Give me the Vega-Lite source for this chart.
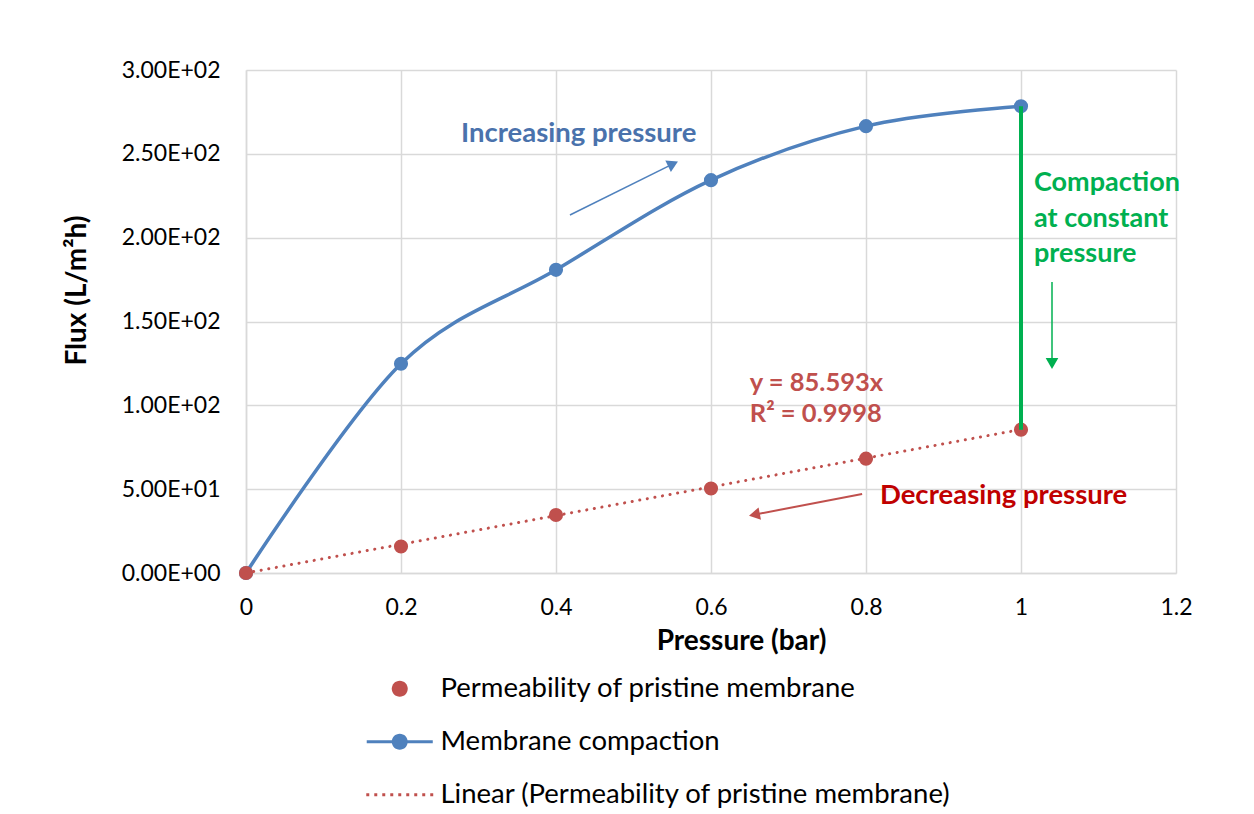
{
  "$schema": "https://vega.github.io/schema/vega-lite/v6.json",
  "autosize": {"type": "none"},
  "width": 930,
  "height": 503,
  "padding": {"left": 246, "top": 70, "right": 78, "bottom": 241},
  "background": "white",
  "config": {
    "view": {"stroke": null},
    "font": "Lato",
    "axis": {
      "gridColor": "#D9D9D9",
      "gridWidth": 1.5,
      "domainColor": "#D9D9D9",
      "domainWidth": 1.5,
      "ticks": false,
      "tickSize": 0,
      "labelFont": "Lato",
      "labelFontSize": 23,
      "labelColor": "#000000",
      "labelFlush": false,
      "titleFont": "Lato",
      "titleFontSize": 28,
      "titleFontWeight": "bold",
      "titleColor": "#000000"
    }
  },
  "datasets": {
    "points": [
      {"pressure": 0, "flux": 0, "series": "Membrane compaction"},
      {"pressure": 0.2, "flux": 124.8, "series": "Membrane compaction"},
      {"pressure": 0.4, "flux": 180.8, "series": "Membrane compaction"},
      {"pressure": 0.6, "flux": 234.3, "series": "Membrane compaction"},
      {"pressure": 0.8, "flux": 266.5, "series": "Membrane compaction"},
      {"pressure": 1.0, "flux": 278.4, "series": "Membrane compaction"},
      {"pressure": 0, "flux": 0, "series": "Permeability of pristine membrane"},
      {"pressure": 0.2, "flux": 15.8, "series": "Permeability of pristine membrane"},
      {"pressure": 0.4, "flux": 34.6, "series": "Permeability of pristine membrane"},
      {"pressure": 0.6, "flux": 50.4, "series": "Permeability of pristine membrane"},
      {"pressure": 0.8, "flux": 68.2, "series": "Permeability of pristine membrane"},
      {"pressure": 1.0, "flux": 85.5, "series": "Permeability of pristine membrane"}
    ],
    "trend": [
      {"pressure": 0, "flux": 0},
      {"pressure": 1, "flux": 85.593}
    ],
    "compaction": [
      {"pressure": 1, "flux": 85.5, "flux2": 278.4}
    ],
    "arrowBlue": [{"pressure": 0.418, "flux": 213.5, "pressure2": 0.551, "flux2": 244}],
    "arrowGreen": [{"pressure": 1.04, "flux": 173.6, "pressure2": 1.04, "flux2": 125}],
    "arrowRed": [{"pressure": 0.795, "flux": 47.1, "pressure2": 0.656, "flux2": 34.8}],
    "textBlue": [{"pressure": 0.2774, "flux": 261.8, "label": "Increasing pressure"}],
    "textGreen": [
      {"pressure": 1.0168, "flux": 232.6, "label": "Compaction"},
      {"pressure": 1.0168, "flux": 211.1, "label": "at constant"},
      {"pressure": 1.0168, "flux": 190.3, "label": "pressure"}
    ],
    "textEq": [
      {"pressure": 0.650, "flux": 113.3, "label": "y = 85.593x"},
      {"pressure": 0.650, "flux": 94.8, "label": "R² = 0.9998"}
    ],
    "textRed": [{"pressure": 0.818, "flux": 45.9, "label": "Decreasing pressure"}]
  },
  "encoding": {
    "x": {
      "field": "pressure",
      "type": "quantitative",
      "scale": {"domain": [0, 1.2], "nice": false},
      "axis": {
        "title": "Pressure (bar)",
        "values": [0, 0.2, 0.4, 0.6, 0.8, 1.0, 1.2],
        "format": ".1~f",
        "labelPadding": 23,
        "titleX": 495,
        "titleY": 68,
        "titleBaseline": "middle",
        "titleAlign": "center"
      }
    },
    "y": {
      "field": "flux",
      "type": "quantitative",
      "scale": {"domain": [0, 300], "nice": false},
      "axis": {
        "title": "Flux (L/m²h)",
        "values": [0, 50, 100, 150, 200, 250, 300],
        "labelExpr": "replace(format(datum.value, '.2e'), 'e+', 'E+0')",
        "labelPadding": 26,
        "titleX": -169,
        "titleY": 220,
        "titleAlign": "center",
        "titleBaseline": "middle",
        "titleAngle": -90
      }
    }
  },
  "layer": [
    {
      "data": {"name": "points"},
      "transform": [{"filter": "datum.series === 'Membrane compaction'"}],
      "mark": {"type": "line", "interpolate": "cardinal", "color": "#4F81BD", "strokeWidth": 3.5}
    },
    {
      "data": {"name": "points"},
      "transform": [{"filter": "datum.series === 'Membrane compaction'"}],
      "mark": {"type": "point", "filled": true, "opacity": 1, "size": 200, "color": "#4F81BD"}
    },
    {
      "data": {"name": "points"},
      "transform": [{"filter": "datum.series === 'Permeability of pristine membrane'"}],
      "mark": {"type": "point", "filled": true, "opacity": 1, "size": 200, "color": "#C0504D"}
    },
    {
      "data": {"name": "trend"},
      "mark": {"type": "line", "color": "#C0504D", "strokeWidth": 3, "strokeDash": [0.1, 7.6], "strokeCap": "round"}
    },
    {
      "data": {"name": "compaction"},
      "mark": {"type": "rule", "color": "#00B050", "strokeWidth": 4},
      "encoding": {"y2": {"field": "flux2"}}
    },
    {
      "data": {"name": "arrowBlue"},
      "mark": {"type": "rule", "color": "#4F81BD", "strokeWidth": 1.5},
      "encoding": {"x2": {"field": "pressure2"}, "y2": {"field": "flux2"}}
    },
    {
      "data": {"name": "arrowBlue"},
      "mark": {"type": "point", "shape": "triangle-right", "filled": true, "opacity": 1, "size": 160, "color": "#4F81BD", "angle": -26},
      "encoding": {"x": {"field": "pressure2", "type": "quantitative"}, "y": {"field": "flux2", "type": "quantitative"}}
    },
    {
      "data": {"name": "arrowGreen"},
      "mark": {"type": "rule", "color": "#00B050", "strokeWidth": 1.5},
      "encoding": {"x2": {"field": "pressure2"}, "y2": {"field": "flux2"}}
    },
    {
      "data": {"name": "arrowGreen"},
      "mark": {"type": "point", "shape": "triangle-down", "filled": true, "opacity": 1, "size": 160, "color": "#00B050"},
      "encoding": {"x": {"field": "pressure2", "type": "quantitative"}, "y": {"field": "flux2", "type": "quantitative"}}
    },
    {
      "data": {"name": "arrowRed"},
      "mark": {"type": "rule", "color": "#C0504D", "strokeWidth": 2},
      "encoding": {"x2": {"field": "pressure2"}, "y2": {"field": "flux2"}}
    },
    {
      "data": {"name": "arrowRed"},
      "mark": {"type": "point", "shape": "triangle-left", "filled": true, "opacity": 1, "size": 160, "color": "#C0504D", "angle": -11},
      "encoding": {"x": {"field": "pressure2", "type": "quantitative"}, "y": {"field": "flux2", "type": "quantitative"}}
    },
    {
      "data": {"name": "textBlue"},
      "mark": {"type": "text", "align": "left", "baseline": "middle", "font": "Lato", "fontSize": 27.5, "fontWeight": "bold", "color": "#4A72AC"},
      "encoding": {"text": {"field": "label"}}
    },
    {
      "data": {"name": "textGreen"},
      "mark": {"type": "text", "align": "left", "baseline": "middle", "font": "Lato", "fontSize": 27, "fontWeight": "bold", "color": "#00B050"},
      "encoding": {"text": {"field": "label"}}
    },
    {
      "data": {"name": "textEq"},
      "mark": {"type": "text", "align": "left", "baseline": "middle", "font": "Lato", "fontSize": 25.5, "fontWeight": "bold", "color": "#C0504D"},
      "encoding": {"text": {"field": "label"}}
    },
    {
      "data": {"name": "textRed"},
      "mark": {"type": "text", "align": "left", "baseline": "middle", "font": "Lato", "fontSize": 27.5, "fontWeight": "bold", "color": "#C00000"},
      "encoding": {"text": {"field": "label"}}
    },
    {
      "data": {"name": "points"},
      "transform": [{"filter": "false"}],
      "mark": {"type": "point", "filled": true, "opacity": 1, "size": 676, "strokeWidth": 0},
      "encoding": {
        "color": {
          "field": "series",
          "type": "nominal",
          "scale": {
            "domain": ["Permeability of pristine membrane", "Membrane compaction", "Linear (Permeability of pristine membrane)"],
            "range": ["#C0504D", "#4F81BD", "#C0504D"]
          },
          "legend": {
            "title": null,
            "orient": "none",
            "legendX": 120,
            "legendY": 605,
            "direction": "vertical",
            "symbolSize": 676,
            "symbolStrokeWidth": 0,
            "symbolOffset": 20,
            "labelOffset": 27,
            "labelFont": "Lato",
            "labelFontSize": 27.5,
            "labelColor": "#000000",
            "labelLimit": 700,
            "rowPadding": 24,
            "padding": 0
          }
        },
        "shape": {
          "field": "series",
          "type": "nominal",
          "scale": {
            "domain": ["Permeability of pristine membrane", "Membrane compaction", "Linear (Permeability of pristine membrane)"],
            "range": [
              "M-0.615,0A0.615,0.615 0 1,1 0.615,0A0.615,0.615 0 1,1 -0.615,0Z",
              "M-2.54,-0.123H2.54V0.123H-2.54Z M-0.615,0A0.615,0.615 0 1,1 0.615,0A0.615,0.615 0 1,1 -0.615,0Z",
              "M-2.575,-0.115h0.23v0.23h-0.23Z M-1.96,-0.115h0.23v0.23h-0.23Z M-1.345,-0.115h0.23v0.23h-0.23Z M-0.73,-0.115h0.23v0.23h-0.23Z M-0.115,-0.115h0.23v0.23h-0.23Z M0.5,-0.115h0.23v0.23h-0.23Z M1.115,-0.115h0.23v0.23h-0.23Z M1.73,-0.115h0.23v0.23h-0.23Z M2.345,-0.115h0.23v0.23h-0.23Z"
            ]
          },
          "legend": {
            "title": null,
            "orient": "none",
            "legendX": 120,
            "legendY": 605,
            "direction": "vertical",
            "symbolSize": 676,
            "symbolStrokeWidth": 0,
            "symbolOffset": 20,
            "labelOffset": 27,
            "labelFont": "Lato",
            "labelFontSize": 27.5,
            "labelColor": "#000000",
            "labelLimit": 700,
            "rowPadding": 24,
            "padding": 0
          }
        }
      }
    }
  ]
}
